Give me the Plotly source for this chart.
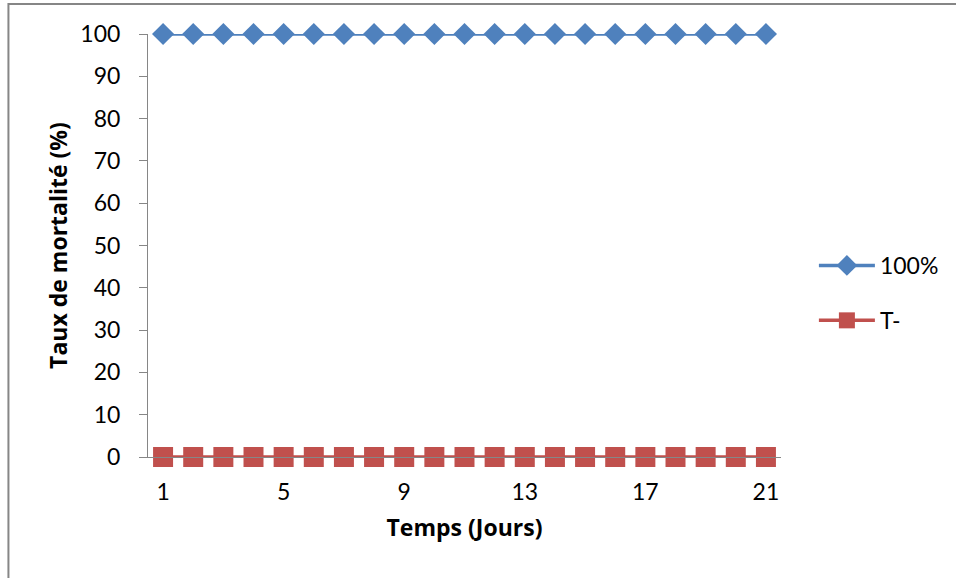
import plotly.graph_objects as go

days = list(range(1, 22))
serie_100 = [100] * 21
serie_t = [0] * 21
x_ticks = [1, 5, 9, 13, 17, 21]
y_ticks = [0, 10, 20, 30, 40, 50, 60, 70, 80, 90, 100]

FONT = "Lato"
TFONT = "Open Sans"
GRAY = "#868686"

fig = go.Figure()
fig.add_trace(go.Scatter(
    x=days, y=serie_100, name="100%", mode="lines+markers",
    line=dict(color="#4F81BD", width=3.5),
    marker=dict(symbol="diamond", size=17, color="#4F81BD"),
    cliponaxis=False, legendgroup="a"))
fig.add_trace(go.Scatter(
    x=days, y=serie_t, name="T-", mode="lines+markers",
    line=dict(color="#C0504D", width=3.5),
    marker=dict(symbol="square", size=20, color="#C0504D"),
    cliponaxis=False, legendgroup="b"))

W, H = 956, 578
L, R, T, B = 148, 173, 34, 121
pw, ph = W - L - R, H - T - B

def px2x(p):
    return (p - L) / pw

def py2y(p):
    return (H - B - p) / ph

fig.update_layout(
    width=W, height=H,
    margin=dict(l=L, r=R, t=T, b=B),
    paper_bgcolor="white", plot_bgcolor="white",
    font=dict(family=FONT, size=23, color="black"),
    showlegend=True,
    legend=dict(x=px2x(816), xanchor="left", y=py2y(293), yanchor="middle",
                font=dict(size=23), itemwidth=56, tracegroupgap=22,
                traceorder="grouped", bgcolor="rgba(0,0,0,0)"),
    xaxis=dict(range=[0.5, 21.5], tickvals=x_ticks, ticktext=[str(v) for v in x_ticks],
               showgrid=False, zeroline=False, showline=True, linecolor=GRAY, linewidth=1,
               ticks="", tickfont=dict(size=23), ticklabelstandoff=14,
               title=dict(text="<b>Temps (Jours)</b>", font=dict(family=TFONT, size=23), standoff=16)),
    yaxis=dict(range=[0, 100], tickvals=y_ticks, showgrid=False, zeroline=False,
               showline=True, linecolor=GRAY, linewidth=1,
               ticks="outside", ticklen=8, tickcolor=GRAY, tickfont=dict(size=23),
               ticklabelstandoff=14,
               title=dict(text="<b>Taux de mortalité (%)</b>", font=dict(family=TFONT, size=23), standoff=6)),
    shapes=[dict(type="rect", xref="paper", yref="paper",
                 x0=px2x(8), x1=px2x(1000), y0=py2y(620), y1=py2y(4),
                 line=dict(color=GRAY, width=2), fillcolor="rgba(0,0,0,0)", layer="below")],
)

fig.write_html("out.html", config={"displayModeBar": False},
               post_script="document.body.style.margin='0';")
